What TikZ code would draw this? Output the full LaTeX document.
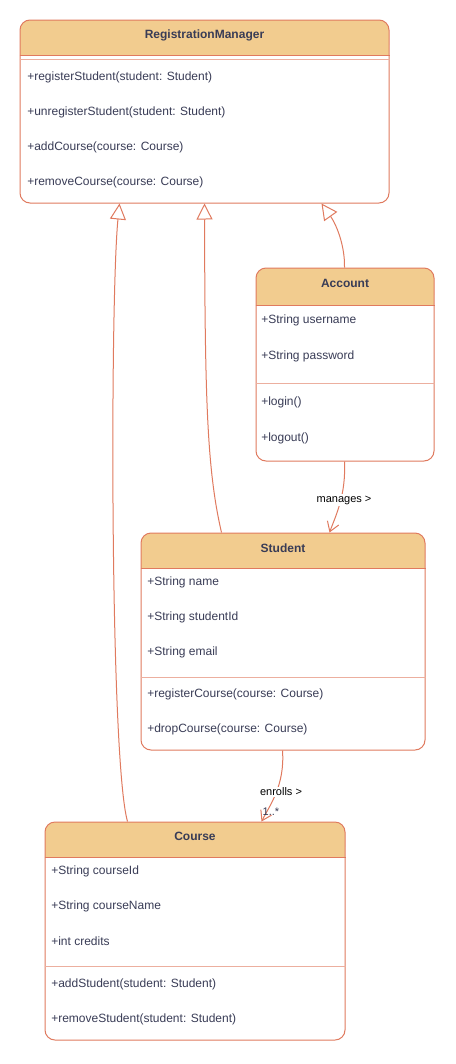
\documentclass[tikz,border=0pt]{standalone}
\usepackage{fontspec}
\setmainfont{Liberation Sans}
\usetikzlibrary{arrows.meta,positioning,calc,fit}
\definecolor{clrS}{RGB}{224,122,95}
\definecolor{clrF}{RGB}{242,204,143}
\definecolor{clrT}{RGB}{57,60,86}
\tikzset{
  classbox/.style={rectangle,rounded corners=7.5pt,draw=clrS,line width=0.75pt,
    inner sep=0pt},
  header/.style={fill=clrF,rounded corners=7.5pt},
  ctitle/.style={font=\fontsize{9}{11}\selectfont\bfseries,text=clrT,inner sep=0pt,
    yshift=-0.75pt},
  member/.style={font=\fontsize{9}{11}\selectfont,text=clrT,anchor=west,inner sep=0pt,
    yshift=-1.2pt},
  hline/.style={draw=clrS,line width=0.75pt},
  divider/.style={draw=clrS!60,line width=0.75pt},
  gen/.style={-{Triangle[length=12pt,width=12pt,fill=white]},draw=clrS,
    line width=0.75pt},
  assoc/.style={-{Straight Barb[length=7pt,width=9pt]},draw=clrS,line width=0.75pt},
  elabel/.style={font=\fontsize{8.25}{10}\selectfont,fill=white,inner sep=1pt,
    yshift=-1.5pt},
  mult/.style={font=\fontsize{8.25}{10}\selectfont,text=clrT,inner sep=0pt}
}
\begin{document}
\begin{tikzpicture}[x=0.75pt,y=-0.75pt]
  \fill[white] (0,0) rectangle (455,1064);

  % headers
  \fill[header] (20,20) rectangle (389,55);
  \fill[clrF] (20,40) rectangle (389,55);
  \fill[header] (256,268) rectangle (434,305);
  \fill[clrF] (256,290) rectangle (434,305);
  \fill[header] (141,533) rectangle (425,568);
  \fill[clrF] (141,553) rectangle (425,568);
  \fill[header] (45,822) rectangle (345,857);
  \fill[clrF] (45,842) rectangle (345,857);

  \node[classbox,fit={(20,20) (389,203)}] (rm) {};
  \node[classbox,fit={(256,268) (434,461)}] (ac) {};
  \node[classbox,fit={(141,533) (425,750)}] (st) {};
  \node[classbox,fit={(45,822) (345,1040)}] (co) {};

  \draw[hline] (rm.west |- 0,55) -- (rm.east |- 0,55);
  \draw[divider] (rm.west |- 0,59) -- (rm.east |- 0,59);
  \draw[hline] (ac.west |- 0,305) -- (ac.east |- 0,305);
  \draw[divider] (ac.west |- 0,383) -- (ac.east |- 0,383);
  \draw[hline] (st.west |- 0,568) -- (st.east |- 0,568);
  \draw[divider] (st.west |- 0,677) -- (st.east |- 0,677);
  \draw[hline] (co.west |- 0,857) -- (co.east |- 0,857);
  \draw[divider] (co.west |- 0,966) -- (co.east |- 0,966);

  \node[ctitle] (rmT) at (204.5,34) {RegistrationManager};
  \node[member] (rmM1) at (27,76) {+registerStudent(student: Student)};
  \node[member] (rmM2) at (27,111) {+unregisterStudent(student: Student)};
  \node[member] (rmM3) at (27,146) {+addCourse(course: Course)};
  \node[member] (rmM4) at (27,181) {+removeCourse(course: Course)};

  \node[ctitle] (acT) at (345,282) {Account};
  \node[member] (acA1) at (261,319) {+String username};
  \node[member] (acA2) at (261,355) {+String password};
  \node[member] (acM1) at (261,401) {+login()};
  \node[member] (acM2) at (261,437) {+logout()};

  \node[ctitle] (stT) at (283,547) {Student};
  \node[member] (stA1) at (147,581) {+String name};
  \node[member] (stA2) at (147,616) {+String studentId};
  \node[member] (stA3) at (147,651) {+String email};
  \node[member] (stM1) at (147,693) {+registerCourse(course: Course)};
  \node[member] (stM2) at (147,728) {+dropCourse(course: Course)};

  \node[ctitle] (coT) at (195,835) {Course};
  \node[member] (coA1) at (51,870) {+String courseId};
  \node[member] (coA2) at (51,905) {+String courseName};
  \node[member] (coA3) at (51,940) {+int credits};
  \node[member] (coM1) at (51,983) {+addStudent(student: Student)};
  \node[member] (coM2) at (51,1018) {+removeStudent(student: Student)};

  % connectors
  \draw[gen] ($(co.north west)+(83,0)$) .. controls (110,760) and (110,300)
    .. ($(rm.south west)+(100,0)$);
  \draw[gen] ($(st.north west)+(81,0)$) .. controls (207,470) and (205,400)
    .. ($(rm.south west)+(185,0)$);
  \draw[gen] ($(ac.north west)+(89,0)$) .. controls (345,245) and (336,224)
    .. ($(rm.south west)+(302,0)$);
  \draw[assoc] ($(ac.south west)+(89,0)$) .. controls (346,495) and (336,515)
    .. ($(st.north west)+(189,0)$);
  \draw[assoc] ($(st.south west)+(142,0)$) .. controls (285,785) and (270,805)
    .. ($(co.north west)+(217,0)$);

  \node[elabel] (mg) at (344,498) {manages >};
  \node[elabel] (en) at (281,790) {enrolls >};
  \node[mult] (enM) at (271,812) {1..*};
\end{tikzpicture}
\end{document}
